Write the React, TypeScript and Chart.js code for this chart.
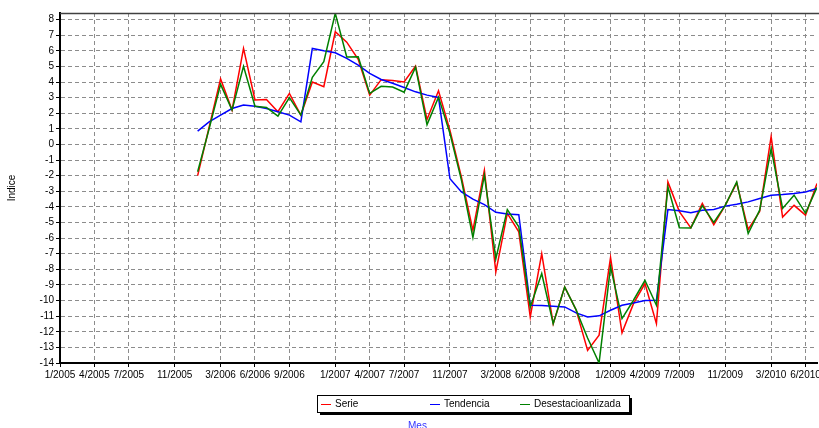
import React, { useEffect, useRef } from "react";
import { Chart, registerables } from "chart.js";

Chart.register(...registerables);

// Month index counted from 1/2005 (0 = 1/2005). Data start at 1/2006.
const START_MONTH = 12;

const serie = [
  -2.0, 1.1, 4.2, 2.2, 6.15, 2.85, 2.88, 2.1, 3.27, 1.88, 4.0, 3.7,
  7.22, 6.55, 5.45, 3.16, 4.15, 4.1, 4.0, 5.02, 1.6, 3.44, 0.9, -2.1,
  -5.5, -1.65, -8.16, -4.42, -5.6, -11.05, -7.0, -11.48, -9.13, -10.6, -13.19, -12.22,
  -7.25, -12.07, -10.2, -8.91, -11.48, -2.4, -4.3, -5.34, -3.78, -5.15, -3.9, -2.46,
  -5.45, -4.3, 0.5, -4.65, -3.9, -4.53, -2.5,
];

const tendencia = [
  0.85, 1.45, 1.88, 2.3, 2.52, 2.45, 2.3, 2.09, 1.88, 1.45, 6.15, 6.0,
  5.87, 5.51, 5.08, 4.55, 4.16, 3.92, 3.65, 3.37, 3.16, 3.01, -2.2, -3.04,
  -3.5, -3.85, -4.35, -4.45, -4.5, -10.3, -10.32, -10.37, -10.41, -10.79, -11.05, -10.98,
  -10.62, -10.3, -10.15, -10.0, -9.98, -4.17, -4.25, -4.38, -4.21, -4.17, -3.95, -3.83,
  -3.68, -3.46, -3.25, -3.21, -3.14, -3.04, -2.82,
];

const desestacionalizada = [
  -1.75, 1.0, 3.85, 2.2, 5.0, 2.45, 2.37, 1.81, 3.0, 1.88, 4.3, 5.3,
  8.4, 5.6, 5.62, 3.27, 3.72, 3.68, 3.35, 4.95, 1.27, 3.03, 0.7, -2.29,
  -5.96, -1.97, -7.31, -4.17, -5.28, -10.41, -8.27, -11.48, -9.13, -10.6, -12.4, -14.0,
  -7.84, -11.16, -9.98, -8.7, -10.3, -2.72, -5.33, -5.35, -3.92, -5.0, -3.9, -2.4,
  -5.71, -4.21, -0.26, -4.1, -3.25, -4.4, -2.75,
];

const xTickMonths = [0, 3, 6, 10, 14, 17, 20, 24, 27, 30, 34, 38, 41, 44, 48, 51, 54, 58, 62, 65];
const yTickValues = [-14, -13, -12, -11, -10, -9, -8, -7, -6, -5, -4, -3, -2, -1, 0, 1, 2, 3, 4, 5, 6, 7, 8];

const seriesNames = ["Serie", "Tendencia", "Desestacioanlizada"];
const seriesColors = ["#ff0000", "#0000ff", "#008000"];

const FONT = "'Liberation Sans', Arial, sans-serif";

const monthLabel = (m: number) => `${(m % 12) + 1}/${2005 + Math.floor(m / 12)}`;

const toPoints = (arr: number[]) => arr.map((v, i) => ({ x: START_MONTH + i, y: v }));

const decorPlugin = {
  id: "decor",
  afterDraw(chart: any) {
    const ctx = chart.ctx as CanvasRenderingContext2D;
    const ca = chart.chartArea;
    ctx.save();
    // top frame line
    ctx.strokeStyle = "#404040";
    ctx.lineWidth = 1.5;
    ctx.beginPath();
    ctx.moveTo(ca.left, ca.top + 0.5);
    ctx.lineTo(ca.right + 2, ca.top + 0.5);
    ctx.stroke();

    // legend box with shadow
    const bx = 317, by = 395, bw = 312, bh = 17;
    ctx.fillStyle = "#000";
    ctx.fillRect(bx + 3, by + 3, bw, bh);
    ctx.fillStyle = "#fff";
    ctx.fillRect(bx, by, bw, bh);
    ctx.strokeStyle = "#000";
    ctx.lineWidth = 1;
    ctx.strokeRect(bx + 0.5, by + 0.5, bw, bh);

    const itemX = [321, 430, 520];
    ctx.font = `10px ${FONT}`;
    ctx.textBaseline = "middle";
    ctx.textAlign = "left";
    for (let i = 0; i < seriesNames.length; i++) {
      ctx.strokeStyle = seriesColors[i];
      ctx.lineWidth = 1;
      ctx.beginPath();
      ctx.moveTo(itemX[i], by + 9.5);
      ctx.lineTo(itemX[i] + 10, by + 9.5);
      ctx.stroke();
      ctx.fillStyle = "#000";
      ctx.fillText(seriesNames[i], itemX[i] + 14, by + 9.5);
    }

    // x axis title
    ctx.fillStyle = "#3333ff";
    ctx.font = `10px ${FONT}`;
    ctx.textBaseline = "top";
    ctx.fillText("Mes", 408, 421);
    ctx.restore();
  },
};

export default function App() {
  const canvasRef = useRef<HTMLCanvasElement | null>(null);

  useEffect(() => {
    document.body.style.margin = "0";
    const canvas = canvasRef.current;
    if (!canvas) return;

    const chart = new Chart(canvas, {
      type: "line",
      data: {
        datasets: [
          {
            label: seriesNames[0],
            data: toPoints(serie),
            borderColor: seriesColors[0],
            borderWidth: 1.5,
            pointRadius: 0,
            tension: 0,
            order: 2,
          },
          {
            label: seriesNames[1],
            data: toPoints(tendencia),
            borderColor: seriesColors[1],
            borderWidth: 1.5,
            pointRadius: 0,
            tension: 0,
            order: 1,
          },
          {
            label: seriesNames[2],
            data: toPoints(desestacionalizada),
            borderColor: seriesColors[2],
            borderWidth: 1.5,
            pointRadius: 0,
            tension: 0,
            order: 0,
          },
        ],
      },
      options: {
        animation: false,
        responsive: true,
        maintainAspectRatio: false,
        layout: { padding: { left: 0, top: 13, right: 2, bottom: 0 } },
        plugins: {
          legend: { display: false },
          tooltip: { enabled: false },
        },
        scales: {
          x: {
            type: "linear",
            min: 0,
            max: 66,
            afterBuildTicks: (axis: any) => {
              axis.ticks = xTickMonths.map((v) => ({ value: v }));
            },
            afterFit: (axis: any) => {
              axis.height = 65;
              axis.paddingLeft = 0;
              axis.paddingRight = 0;
            },
            ticks: {
              autoSkip: false,
              maxRotation: 0,
              minRotation: 0,
              padding: 2,
              color: "#000",
              font: { family: FONT, size: 10 },
              callback: (v: any) => monthLabel(Number(v)),
            },
            grid: {
              color: "#8c8c8c",
              lineWidth: 1,
              drawTicks: true,
              tickLength: 4,
              tickColor: "#000",
              tickWidth: 1,
              tickBorderDash: [],
            },
            border: { display: true, color: "#000", width: 2, dash: [4, 3] },
          },
          y: {
            type: "linear",
            min: -14,
            max: 8.42,
            afterBuildTicks: (axis: any) => {
              axis.ticks = yTickValues.map((v) => ({ value: v }));
            },
            afterFit: (axis: any) => {
              axis.width = 60;
              axis.paddingTop = 0;
              axis.paddingBottom = 0;
            },
            ticks: {
              padding: 2,
              color: "#000",
              font: { family: FONT, size: 10 },
              callback: (v: any) => String(v),
            },
            grid: {
              color: "#8c8c8c",
              lineWidth: 1,
              drawTicks: true,
              tickLength: 4,
              tickColor: "#000",
              tickWidth: 1,
              tickBorderDash: [],
            },
            border: { display: true, color: "#000", width: 2, dash: [4, 3] },
            title: {
              display: true,
              text: "Indice",
              color: "#000",
              font: { family: FONT, size: 10 },
              padding: { top: 6, bottom: 0 },
            },
          },
        },
      },
      plugins: [decorPlugin],
    });

    return () => {
      chart.destroy();
    };
  }, []);

  return (
    <div style={{ width: 819, height: 428, position: "relative", background: "#fff" }}>
      <canvas ref={canvasRef} />
    </div>
  );
}
